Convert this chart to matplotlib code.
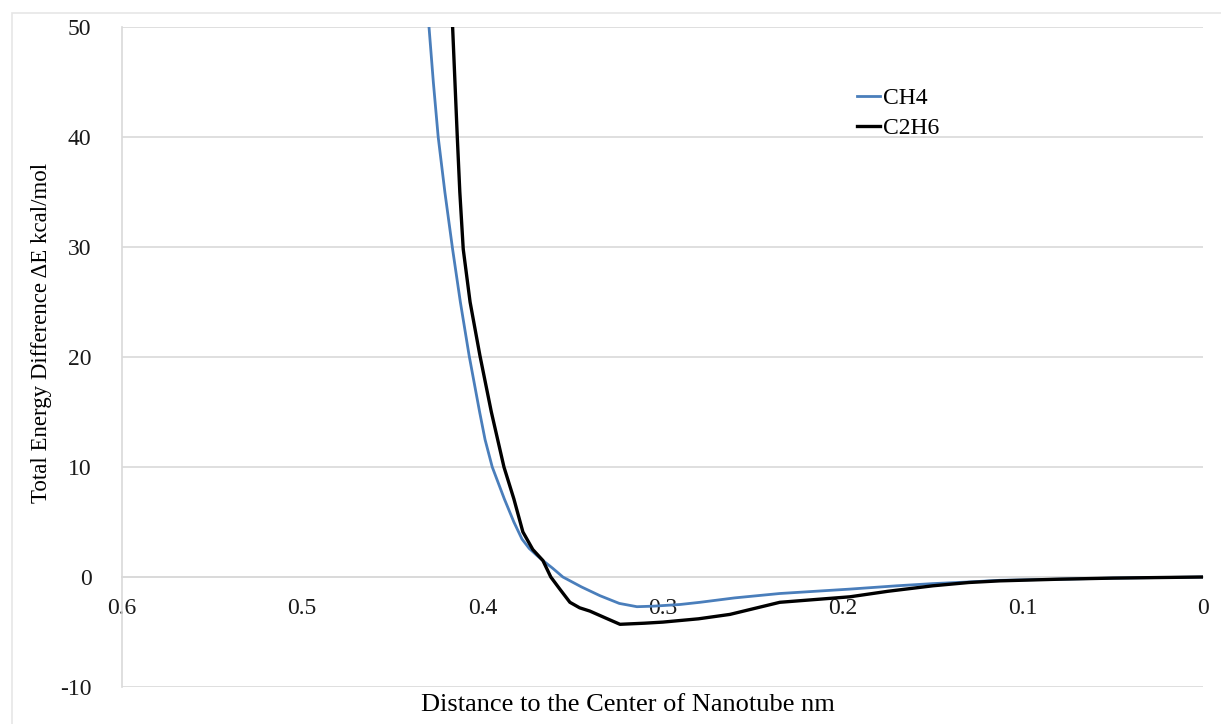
import matplotlib.pyplot as plt
from matplotlib.patches import Rectangle

plt.rcParams["font.family"] = ["Liberation Serif", "DejaVu Serif"]
plt.rcParams["axes.unicode_minus"] = False

# distance to the nanotube centre (nm) and energy difference (kcal/mol)
ch4_x = [0.4300, 0.4296, 0.4272, 0.4245, 0.4208, 0.4165, 0.4122, 0.4073, 0.4015,
         0.3985, 0.3945, 0.3878, 0.3825, 0.3780, 0.3740, 0.3700, 0.3664, 0.3610,
         0.3553, 0.3450, 0.3347, 0.3240, 0.3142, 0.3050, 0.2903, 0.2792, 0.2600,
         0.2349, 0.1960, 0.1700, 0.1500, 0.1300, 0.1128, 0.0800, 0.0500, 0.0]
ch4_y = [51.0, 50.0, 45.0, 40.0, 35.0, 29.8, 25.0, 20.1, 15.0,
         12.5, 10.0, 7.1, 5.0, 3.45, 2.6, 2.0, 1.5, 0.8,
         0.0, -0.9, -1.7, -2.4, -2.7, -2.65, -2.5, -2.3, -1.9,
         -1.5, -1.1, -0.8, -0.6, -0.45, -0.3, -0.2, -0.1, 0.0]

c2h6_x = [0.4168, 0.4165, 0.4152, 0.4139, 0.4125, 0.4106, 0.4068, 0.4013, 0.3950,
          0.3880, 0.3825, 0.3775, 0.3720, 0.3664, 0.3620, 0.3570, 0.3514, 0.3460,
          0.3403, 0.3320, 0.3236, 0.3100, 0.2998, 0.2800, 0.2626, 0.2500, 0.2349,
          0.1960, 0.1750, 0.1500, 0.1300, 0.1128, 0.0800, 0.0500, 0.0]
c2h6_y = [51.0, 50.0, 45.0, 40.0, 35.0, 29.8, 25.0, 20.1, 15.0,
          10.0, 7.1, 4.1, 2.5, 1.5, 0.0, -1.1, -2.3, -2.8,
          -3.1, -3.7, -4.3, -4.2, -4.1, -3.8, -3.4, -2.9, -2.3,
          -1.8, -1.3, -0.8, -0.5, -0.35, -0.2, -0.1, 0.0]

x_ticks = [0.6, 0.5, 0.4, 0.3, 0.2, 0.1, 0]
x_tick_labels = ["0.6", "0.5", "0.4", "0.3", "0.2", "0.1", "0"]
y_ticks = [-10, 0, 10, 20, 30, 40, 50]

GRID = "#d9d9d9"

fig = plt.figure(figsize=(12.21, 7.24), dpi=100)
ax = fig.add_axes([0.0999, 0.0511, 0.8854, 0.9116])

# faint outer chart frame
fig.patches.append(Rectangle((12 / 1221, -0.1), 1.2, 1 - 13 / 724 + 0.1,
                             transform=fig.transFigure, fill=False,
                             edgecolor="#e6e6e6", linewidth=1.2, zorder=0))

ax.plot(ch4_x, ch4_y, color="#4a7ebb", linewidth=2.0, label="CH4", zorder=3)
ax.plot(c2h6_x, c2h6_y, color="black", linewidth=2.4, label="C2H6", zorder=3)

ax.set_xlim(0.6, 0)
ax.set_ylim(-10, 50)
ax.set_xticks(x_ticks)
ax.set_xticklabels(x_tick_labels)
ax.set_yticks(y_ticks)

ax.yaxis.grid(True, color=GRID, linewidth=1.2)
ax.set_axisbelow(True)

ax.spines["top"].set_visible(False)
ax.spines["right"].set_visible(False)
ax.spines["bottom"].set_position(("data", 0))
ax.spines["bottom"].set_color(GRID)
ax.spines["bottom"].set_linewidth(1.2)
ax.spines["left"].set_color(GRID)
ax.spines["left"].set_linewidth(1.2)

ax.tick_params(axis="both", length=0, labelsize=17, colors="#1a1a1a")
ax.tick_params(axis="x", pad=15)
ax.tick_params(axis="y", pad=22)

ax.set_xlabel("Distance to the Center of Nanotube nm", fontsize=19)
ax.xaxis.set_label_coords(0.468, -0.010)
ax.set_ylabel("Total Energy Difference \u0394E kcal/mol", fontsize=16.5)
ax.yaxis.set_label_coords(-0.065, 0.536)

ax.legend(loc="upper left", bbox_to_anchor=(0.66, 0.94), frameon=False,
          fontsize=17, handlelength=1.0, handletextpad=0.1, labelspacing=0.35)

fig.savefig("out.png", dpi=100)
